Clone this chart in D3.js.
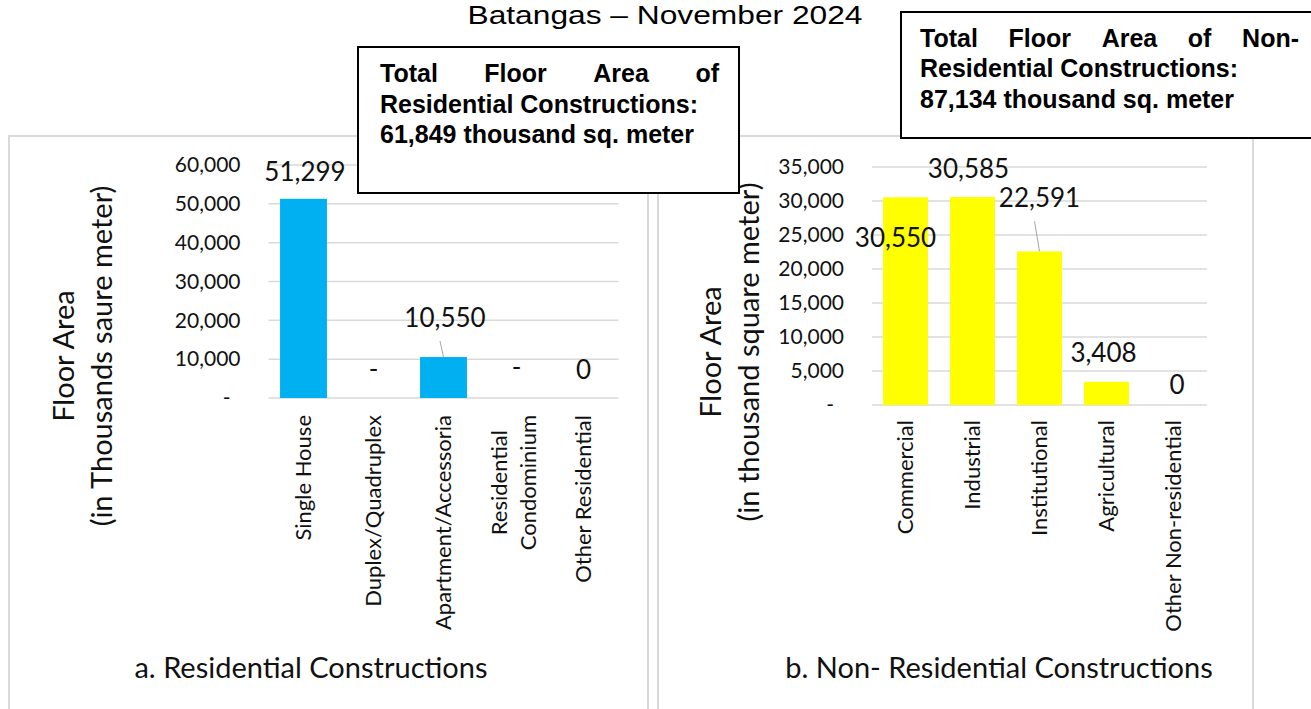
<!DOCTYPE html>
<html>
<head>
<meta charset="utf-8">
<script src="https://cdn.jsdelivr.net/npm/d3@7"></script>
<style>
  body { margin: 0; background: #fff; }
  svg { display: block; }
  .cal { font-family: Lato, "Open Sans", sans-serif; fill: #111; }
  .ari { font-family: "Liberation Sans", Arial, sans-serif; fill: #000; }
</style>
</head>
<body>
<svg width="1311" height="709"></svg>
<script>
// ---- data ----
const titleText = "Batangas \u2013 November 2024";

const resCategories = ["Single House", "Duplex/Quadruplex", "Apartment/Accessoria", "Residential Condominium", "Other Residential"];
const resValues = [51299, 0, 10550, 0, 0.2];
const resTicks = [0, 10000, 20000, 30000, 40000, 50000, 60000];
const resTotal = "61,849";

const nonResCategories = ["Commercial", "Industrial", "Institutional", "Agricultural", "Other Non-residential"];
const nonResValues = [30550, 30585, 22591, 3408, 0.2];
const nonResTicks = [0, 5000, 10000, 15000, 20000, 25000, 30000, 35000];
const nonResTotal = "87,134";

const svg = d3.select("svg");
const fmt = d3.format(",.0f");
const labelFmt = v => v === 0 ? "-" : fmt(v);

// panel borders (behind everything)
const panels = [{ x0: 9, x1: 648 }, { x0: 658, x1: 1253 }];
svg.selectAll("rect.panel")
  .data(panels)
  .enter()
  .append("rect")
  .attr("class", "panel")
  .attr("x", d => d.x0)
  .attr("y", 136)
  .attr("width", d => d.x1 - d.x0)
  .attr("height", 620)
  .attr("fill", "#fff")
  .attr("stroke", "#d9d9d9")
  .attr("stroke-width", 2);

function drawChart(cfg) {
  let g = svg.append("g");

  let x = d3.scaleBand()
    .domain(cfg.cats)
    .range(cfg.xRange)
    .paddingInner(0.33)
    .paddingOuter(0.165);
  let y = d3.scaleLinear().domain([0, d3.max(cfg.ticks)]).range(cfg.yRange);

  // gridlines
  g.append("g")
    .selectAll("line")
    .data(cfg.ticks)
    .enter()
    .append("line")
    .attr("x1", cfg.xRange[0])
    .attr("x2", cfg.xRange[1])
    .attr("y1", d => y(d))
    .attr("y2", d => y(d))
    .attr("stroke", "#d9d9d9")
    .attr("stroke-width", 1.5);

  // y axis labels
  let ax = g.append("g")
    .attr("transform", `translate(${cfg.xRange[0]},0)`)
    .call(d3.axisLeft(y).tickValues(cfg.ticks).tickSize(0).tickPadding(28)
      .tickFormat(d => d === 0 ? "-" : fmt(d)));
  ax.select(".domain").remove();
  ax.selectAll("text")
    .attr("class", "cal")
    .style("font-size", "21px")
    .attr("dx", d => d === 0 ? -10 : 0);

  // bars
  g.selectAll("rect.bar")
    .data(cfg.values)
    .enter()
    .append("rect")
    .attr("class", "bar")
    .attr("x", (d, i) => x(cfg.cats[i]))
    .attr("width", x.bandwidth())
    .attr("y", d => y(d))
    .attr("height", d => y(0) - y(d))
    .attr("fill", cfg.color);

  // data labels (manual offsets like the original)
  cfg.values.forEach((v, i) => {
    let cx = x(cfg.cats[i]) + x.bandwidth() / 2;
    let off = cfg.labelOffsets[i];
    let lx = cx + off[0];
    let ly = y(v) + off[1];
    if (off[2]) {
      g.append("line")
        .attr("x1", lx - 5).attr("y1", ly + 14)
        .attr("x2", cx).attr("y2", y(v))
        .attr("stroke", "#a6a6a6")
        .attr("stroke-width", 1);
    }
    g.append("text")
      .attr("class", "cal")
      .attr("x", lx)
      .attr("y", ly)
      .attr("text-anchor", "middle")
      .style("font-size", "26px")
      .text(labelFmt(v));
  });

  // category labels, rotated, wrapped if too long
  cfg.cats.forEach(c => {
    let cx = x(c) + x.bandwidth() / 2;
    let lg = g.append("g").attr("transform", `translate(${cx},${cfg.catTop}) rotate(-90)`);
    let probe = lg.append("text").attr("class", "cal").style("font-size", "22px").text(c);
    let lines = [c];
    if (probe.node().getComputedTextLength() > 225) lines = c.split(" ");
    probe.remove();
    let ts = lines.map(l => lg.append("text")
      .attr("class", "cal")
      .style("font-size", "22px")
      .attr("text-anchor", "middle")
      .text(l));
    let maxW = d3.max(ts, t => t.node().getComputedTextLength());
    ts.forEach((t, i) => {
      t.attr("x", -maxW / 2)
        .attr("y", (i - (lines.length - 1) / 2) * 29)
        .attr("dy", "0.35em");
    });
  });

  // axis title
  let tg = g.append("g").attr("transform", `translate(${cfg.titleX},${cfg.titleY}) rotate(-90)`);
  cfg.axisTitle.forEach((t, i) => {
    tg.append("text")
      .attr("class", "cal")
      .attr("text-anchor", "middle")
      .attr("y", i * 38)
      .style("font-size", "29px")
      .text(t);
  });

  // panel caption
  g.append("text")
    .attr("class", "cal")
    .attr("x", cfg.captionX)
    .attr("y", 678)
    .attr("text-anchor", "middle")
    .style("font-size", "29px")
    .text(cfg.caption);
}

drawChart({
  cats: resCategories,
  values: resValues,
  ticks: resTicks,
  xRange: [268.5, 618.5],
  yRange: [398, 165],
  color: "#00b0f0",
  labelOffsets: [[1.5, -18], [0, -20], [1.5, -30, true], [3, -22], [0, -19]],
  catTop: 415,
  axisTitle: ["Floor Area", "(in Thousands saure meter)"],
  titleX: 74,
  titleY: 356,
  caption: "a. Residential Constructions",
  captionX: 311
});

drawChart({
  cats: nonResCategories,
  values: nonResValues,
  ticks: nonResTicks,
  xRange: [872, 1207],
  yRange: [405, 167],
  color: "#ffff00",
  labelOffsets: [[-10, 50], [-4, -19], [0, -44, true], [-3, -20], [3.5, -11]],
  catTop: 420,
  axisTitle: ["Floor Area", "(in thousand square meter)"],
  titleX: 721,
  titleY: 352,
  caption: "b. Non- Residential Constructions",
  captionX: 999
});

// total boxes
function drawBox(b) {
  svg.append("rect")
    .attr("x", b.x).attr("y", b.y)
    .attr("width", b.w).attr("height", b.h)
    .attr("fill", "#fff")
    .attr("stroke", "#000")
    .attr("stroke-width", 2);
  b.lines.forEach((line, i) => {
    let by = b.baselines[i];
    if (i === 0) {
      // justified first line
      let words = line.split(" ");
      let ws = words.map(w => svg.append("text")
        .attr("class", "ari")
        .style("font-size", "25px")
        .style("font-weight", "bold")
        .attr("y", by)
        .text(w));
      let widths = ws.map(t => t.node().getComputedTextLength());
      let gap = (b.textR - b.textX - d3.sum(widths)) / (words.length - 1);
      let cur = b.textX;
      ws.forEach((t, j) => {
        t.attr("x", cur);
        cur += widths[j] + gap;
      });
    } else {
      svg.append("text")
        .attr("class", "ari")
        .attr("x", b.textX)
        .attr("y", by)
        .style("font-size", "25px")
        .style("font-weight", "bold")
        .text(line);
    }
  });
}

drawBox({
  x: 358, y: 47, w: 381, h: 146,
  textX: 380, textR: 719,
  baselines: [82, 113, 143],
  lines: ["Total Floor Area of", "Residential Constructions:", resTotal + " thousand sq. meter"]
});

drawBox({
  x: 901, y: 12, w: 430, h: 126,
  textX: 920, textR: 1299,
  baselines: [47, 77, 108],
  lines: ["Total Floor Area of Non-", "Residential Constructions:", nonResTotal + " thousand sq. meter"]
});

// title
svg.append("text")
  .attr("class", "ari")
  .attr("x", 665)
  .attr("y", 24)
  .attr("text-anchor", "middle")
  .attr("textLength", 395)
  .attr("lengthAdjust", "spacingAndGlyphs")
  .style("font-size", "26px")
  .text(titleText);
</script>
</body>
</html>
